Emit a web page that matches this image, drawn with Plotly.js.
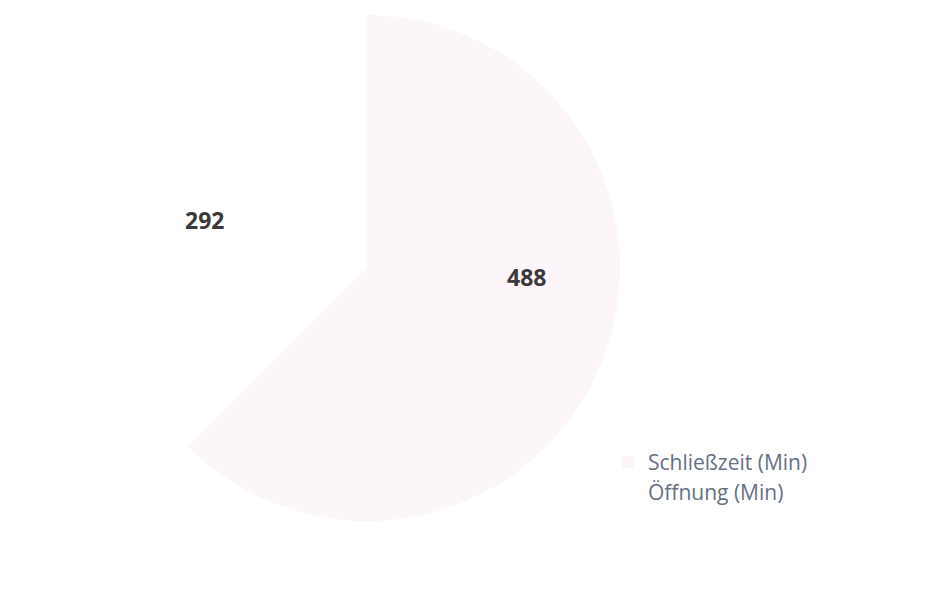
<!DOCTYPE html>
<html>
<head>
<meta charset="utf-8">
<script src="https://cdn.plot.ly/plotly-3.0.1.min.js"></script>
<style>html,body{margin:0;padding:0;background:#fff;}#chart{width:931px;height:591px;}</style>
</head>
<body>
<div id="chart"></div>
<script>
const labels = ["Schließzeit (Min)", "Öffnung (Min)"];
const values = [488, 292];
const colors = ["#fcf5fa", "#ffffff"];
// label anchor positions (paper fraction) for the value labels
const labelPos = [[0.566, 0.531], [0.220, 0.628]];

const trace = {
  type: "pie",
  labels: labels,
  values: values,
  sort: false,
  direction: "clockwise",
  rotation: 0,
  marker: {colors: colors, line: {width: 0}},
  textinfo: "none",
  domain: {x: [0.1224, 0.666], y: [0.1184, 0.9746]},
  hoverinfo: "none"
};

const annotations = values.map((v, i) => ({
  xref: "paper", yref: "paper",
  x: labelPos[i][0], y: labelPos[i][1],
  xanchor: "center", yanchor: "middle",
  text: String(v), showarrow: false,
  font: {family: "Open Sans, sans-serif", size: 23, color: "#3a3a3a", weight: "bold"}
}));

const layout = {
  width: 931, height: 591,
  margin: {l: 0, r: 0, t: 0, b: 0},
  paper_bgcolor: "#ffffff",
  showlegend: true,
  annotations: annotations,
  legend: {
    x: 0.653, y: 0.253, xanchor: "left", yanchor: "top",
    font: {family: "Open Sans, sans-serif", size: 21, color: "#667183"},
    bgcolor: "rgba(0,0,0,0)"
  }
};

Plotly.newPlot("chart", [trace], layout, {staticPlot: true, displayModeBar: false});
</script>
</body>
</html>
